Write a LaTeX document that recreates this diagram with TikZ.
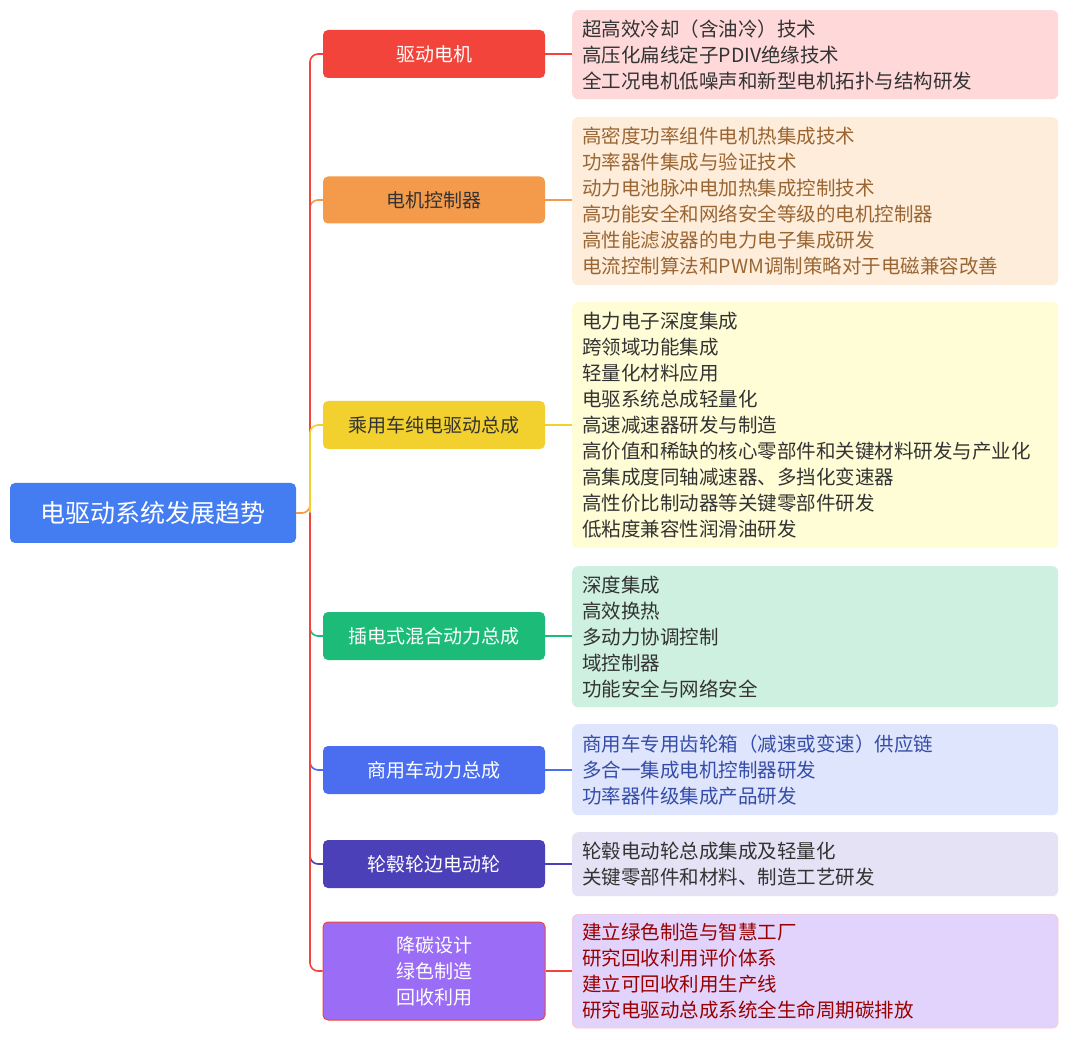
\documentclass[tikz,border=0pt]{standalone}
\usepackage{fontspec}
\setmainfont{Noto Sans CJK SC}
\begin{document}
\begin{tikzpicture}[x=1pt,y=-1pt,
  br/.style={rounded corners=5pt,minimum width=222pt,align=center,font=\fontsize{19}{26}\selectfont,inner sep=0pt},
  det/.style={rounded corners=6pt,minimum width=486pt,align=left,text width=466pt,inner xsep=10pt,inner ysep=0pt,font=\fontsize{19.5}{26}\selectfont,anchor=north west},
  con/.style={line width=1.6pt,rounded corners=8pt}]
\useasboundingbox[fill=white] (0,0) rectangle (1080,1040);
\definecolor{c1}{HTML}{F2443A}\definecolor{c2}{HTML}{F39B4B}\definecolor{c3}{HTML}{F2D12E}
\definecolor{c4}{HTML}{1DBB78}\definecolor{c5}{HTML}{4B6EF0}\definecolor{c6}{HTML}{4B40B8}\definecolor{c7}{HTML}{9B6CF5}
\node[fill=c5!90!cyan,rounded corners=5pt,minimum width=286pt,minimum height=60pt,text=white,font=\fontsize{25}{30}\selectfont] (root) at (153,513) {电驱动系统发展趋势};
\node[br,fill=c1,text=white,minimum height=48pt] (b1) at (434,54) {驱动电机};
\node[br,fill=c2,text=black!80,minimum height=47pt] (b2) at (434,200) {电机控制器};
\node[br,fill=c3,text=black!80,minimum height=48pt] (b3) at (434,425) {乘用车纯电驱动总成};
\node[br,fill=c4,text=white,minimum height=48pt] (b4) at (434,636) {插电式混合动力总成};
\node[br,fill=c5,text=white,minimum height=48pt] (b5) at (434,770) {商用车动力总成};
\node[br,fill=c6,text=white,minimum height=48pt] (b6) at (434,864) {轮毂轮边电动轮};
\node[br,fill=c7,draw=c1,line width=1pt,text=white,minimum height=98pt] (b7) at (434,971) {降碳设计\\绿色制造\\回收利用};
\node[det,fill=red!15,text=black!80,minimum height=89pt] (d1) at (572,10) {超高效冷却（含油冷）技术\\高压化扁线定子PDIV绝缘技术\\全工况电机低噪声和新型电机拓扑与结构研发};
\node[det,fill=orange!14,text=brown!80!black,minimum height=168pt] (d2) at (572,117) {高密度功率组件电机热集成技术\\功率器件集成与验证技术\\动力电池脉冲电加热集成控制技术\\高功能安全和网络安全等级的电机控制器\\高性能滤波器的电力电子集成研发\\电流控制算法和PWM调制策略对于电磁兼容改善};
\node[det,fill=yellow!16,text=black!80,minimum height=246pt] (d3) at (572,302) {电力电子深度集成\\跨领域功能集成\\轻量化材料应用\\电驱系统总成轻量化\\高速减速器研发与制造\\高价值和稀缺的核心零部件和关键材料研发与产业化\\高集成度同轴减速器、多挡化变速器\\高性价比制动器等关键零部件研发\\低粘度兼容性润滑油研发};
\node[det,fill=c4!22,text=black!80,minimum height=141pt] (d4) at (572,566) {深度集成\\高效换热\\多动力协调控制\\域控制器\\功能安全与网络安全};
\node[det,fill=c5!18,text=c5!70!black,minimum height=91pt] (d5) at (572,724) {商用车专用齿轮箱（减速或变速）供应链\\多合一集成电机控制器研发\\功率器件级集成产品研发};
\node[det,fill=c6!15,text=black!80,minimum height=64pt] (d6) at (572,832) {轮毂电动轮总成集成及轻量化\\关键零部件和材料、制造工艺研发};
\node[det,fill=c7!30,draw=red!25,text=red!60!black,minimum height=114pt] (d7) at (572,914) {建立绿色制造与智慧工厂\\研究回收利用评价体系\\建立可回收利用生产线\\研究电驱动总成系统全生命周期碳排放};
\coordinate (t) at (310,513);
\draw[con,c2] (root.east) -- (t) |- (b2.west);
\draw[con,c1] (t) |- (b1.west);
\draw[con,c3] (t) |- (b3.west);
\draw[con,c4] (t) |- (b4.west);
\draw[con,c5] (t) |- (b5.west);
\draw[con,c6] (t) |- (b6.west);
\draw[con,c1] (t) |- (b7.west);
\foreach \i/\c in {1/c1,2/c2,3/c3,4/c4,5/c5,6/c6,7/c1}
  \draw[line width=1.6pt,\c] (b\i.east) -- (b\i.east -| d\i.west);
\end{tikzpicture}
\end{document}
